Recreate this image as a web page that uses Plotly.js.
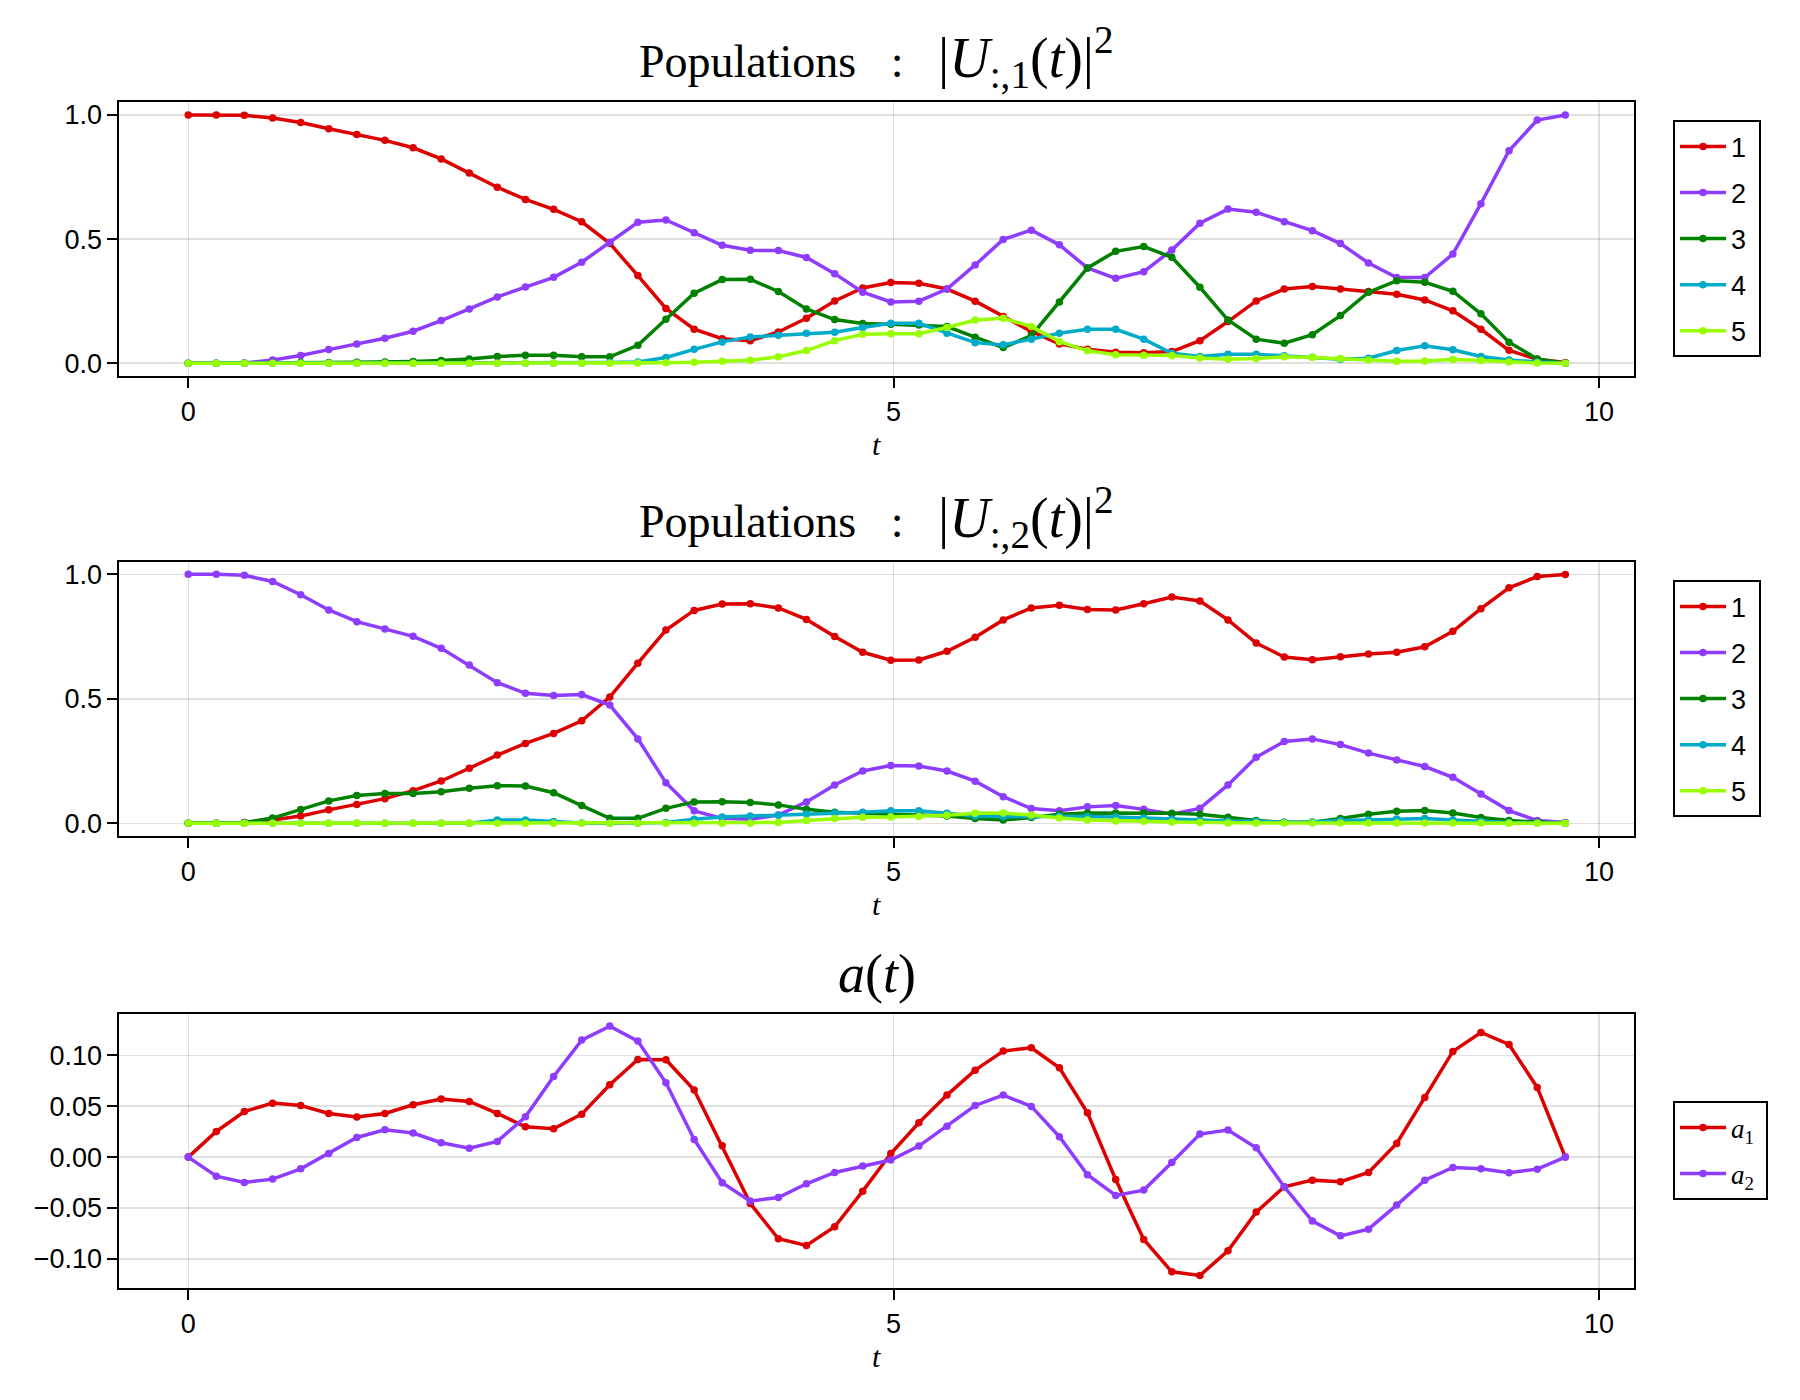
<!DOCTYPE html>
<html>
<head>
<meta charset="utf-8">
<script src="https://cdn.plot.ly/plotly-3.0.1.min.js"></script>
<style>html,body{margin:0;padding:0;background:#fff;}#plot{width:1800px;height:1400px;}</style>
</head>
<body>
<div id="plot"></div>
<script>
// time grid
const t = [0, 0.199, 0.398, 0.598, 0.797, 0.996, 1.195, 1.394, 1.594, 1.793,
  1.992, 2.191, 2.390, 2.590, 2.789, 2.988, 3.187, 3.386, 3.586, 3.785,
  3.984, 4.183, 4.382, 4.582, 4.781, 4.980, 5.179, 5.378, 5.578, 5.777,
  5.976, 6.175, 6.374, 6.574, 6.773, 6.972, 7.171, 7.370, 7.570, 7.769,
  7.968, 8.167, 8.366, 8.566, 8.765, 8.964, 9.163, 9.362, 9.562, 9.761];

// Populations |U_{:,1}(t)|^2
const pop1_level1 = [1.0, 1.0, 0.999, 0.988, 0.970, 0.945, 0.922, 0.898, 0.868, 0.823,
  0.766, 0.709, 0.660, 0.620, 0.570, 0.483, 0.353, 0.221, 0.137, 0.099,
  0.091, 0.126, 0.181, 0.251, 0.303, 0.325, 0.322, 0.299, 0.250, 0.188,
  0.128, 0.078, 0.056, 0.044, 0.042, 0.047, 0.091, 0.168, 0.251, 0.299,
  0.309, 0.299, 0.289, 0.278, 0.255, 0.211, 0.137, 0.052, 0.016, 0.003];
const pop1_level2 = [0, 0, 0.001, 0.013, 0.031, 0.055, 0.078, 0.101, 0.129, 0.172,
  0.219, 0.267, 0.307, 0.346, 0.407, 0.487, 0.568, 0.577, 0.526, 0.475,
  0.455, 0.454, 0.426, 0.361, 0.286, 0.247, 0.250, 0.299, 0.396, 0.499,
  0.536, 0.477, 0.384, 0.342, 0.369, 0.456, 0.564, 0.621, 0.608, 0.570,
  0.534, 0.482, 0.404, 0.345, 0.345, 0.440, 0.643, 0.856, 0.980, 1.0];
const pop1_level3 = [0, 0, 0, 0.001, 0.003, 0.003, 0.004, 0.005, 0.007, 0.011,
  0.017, 0.027, 0.032, 0.032, 0.026, 0.026, 0.072, 0.177, 0.282, 0.337,
  0.338, 0.289, 0.219, 0.176, 0.160, 0.157, 0.154, 0.148, 0.105, 0.063,
  0.111, 0.247, 0.384, 0.451, 0.470, 0.427, 0.306, 0.174, 0.097, 0.081,
  0.115, 0.192, 0.286, 0.332, 0.326, 0.290, 0.199, 0.085, 0.017, 0];
const pop1_level4 = [0, 0, 0, 0, 0, 0, 0, 0, 0, 0,
  0, 0, 0, 0, 0, 0.003, 0.005, 0.023, 0.056, 0.086,
  0.106, 0.113, 0.121, 0.125, 0.144, 0.161, 0.161, 0.121, 0.083, 0.074,
  0.097, 0.121, 0.137, 0.137, 0.097, 0.040, 0.027, 0.036, 0.036, 0.030,
  0.024, 0.016, 0.020, 0.051, 0.070, 0.054, 0.027, 0.013, 0.005, 0];
const pop1_level5 = [0, 0, 0, 0, 0, 0, 0, 0, 0, 0,
  0, 0, 0, 0, 0, 0, 0.001, 0.002, 0.004, 0.008,
  0.012, 0.026, 0.051, 0.091, 0.117, 0.119, 0.119, 0.144, 0.174, 0.181,
  0.148, 0.087, 0.050, 0.034, 0.032, 0.031, 0.021, 0.016, 0.019, 0.026,
  0.023, 0.019, 0.013, 0.008, 0.009, 0.015, 0.011, 0.005, 0.001, 0];

// Populations |U_{:,2}(t)|^2
const pop2_level1 = [0, 0, 0.003, 0.013, 0.029, 0.054, 0.076, 0.099, 0.131, 0.170,
  0.221, 0.274, 0.321, 0.361, 0.412, 0.507, 0.643, 0.776, 0.855, 0.881,
  0.882, 0.865, 0.819, 0.750, 0.687, 0.655, 0.656, 0.691, 0.747, 0.817,
  0.865, 0.876, 0.859, 0.857, 0.882, 0.909, 0.893, 0.817, 0.724, 0.668,
  0.657, 0.669, 0.680, 0.687, 0.709, 0.771, 0.862, 0.946, 0.991, 0.999];
const pop2_level2 = [1.0, 1.0, 0.996, 0.971, 0.918, 0.857, 0.810, 0.780, 0.751, 0.703,
  0.636, 0.565, 0.522, 0.513, 0.517, 0.475, 0.339, 0.163, 0.050, 0.020,
  0.016, 0.033, 0.086, 0.154, 0.210, 0.232, 0.230, 0.210, 0.169, 0.107,
  0.059, 0.050, 0.066, 0.071, 0.056, 0.037, 0.060, 0.154, 0.265, 0.329,
  0.339, 0.316, 0.282, 0.254, 0.228, 0.185, 0.118, 0.051, 0.011, 0.003];
const pop2_level3 = [0, 0, 0.003, 0.021, 0.055, 0.090, 0.112, 0.120, 0.120, 0.127,
  0.141, 0.151, 0.150, 0.123, 0.071, 0.020, 0.020, 0.060, 0.086, 0.087,
  0.084, 0.074, 0.056, 0.044, 0.040, 0.036, 0.033, 0.029, 0.019, 0.013,
  0.023, 0.036, 0.041, 0.041, 0.041, 0.040, 0.036, 0.024, 0.011, 0.004,
  0.004, 0.019, 0.036, 0.048, 0.051, 0.041, 0.023, 0.011, 0.004, 0];
const pop2_level4 = [0, 0, 0, 0, 0, 0, 0, 0, 0, 0,
  0, 0.013, 0.013, 0.007, 0.001, 0, 0, 0.003, 0.016, 0.025,
  0.029, 0.032, 0.037, 0.041, 0.044, 0.050, 0.050, 0.040, 0.029, 0.027,
  0.027, 0.029, 0.027, 0.025, 0.021, 0.016, 0.011, 0.009, 0.008, 0.004,
  0.005, 0.011, 0.013, 0.017, 0.019, 0.013, 0.007, 0.003, 0.001, 0];
const pop2_level5 = [0, 0, 0, 0, 0, 0, 0, 0, 0, 0,
  0, 0, 0, 0, 0, 0, 0, 0, 0, 0,
  0, 0.003, 0.011, 0.019, 0.024, 0.025, 0.027, 0.032, 0.040, 0.041,
  0.033, 0.021, 0.013, 0.009, 0.008, 0.005, 0.003, 0.001, 0.001, 0.001,
  0.001, 0.001, 0.001, 0.001, 0.001, 0.001, 0.001, 0, 0, 0];

// controls a(t)
const a1 = [0, 0.0252, 0.0448, 0.0530, 0.0507, 0.0429, 0.0393, 0.0429, 0.0514, 0.0570,
  0.0547, 0.0429, 0.0298, 0.0278, 0.0422, 0.0710, 0.0959, 0.0956, 0.0658, 0.0111,
  -0.0455, -0.0802, -0.0867, -0.0684, -0.0334, 0.0035, 0.0337, 0.0609, 0.0854, 0.1041,
  0.1074, 0.0877, 0.0435, -0.0219, -0.0809, -0.1126, -0.1162, -0.0920, -0.0540, -0.0291,
  -0.0226, -0.0242, -0.0151, 0.0134, 0.0586, 0.1038, 0.1224, 0.1106, 0.0684, 0];
const a2 = [0, -0.0187, -0.0249, -0.0216, -0.0115, 0.0036, 0.0193, 0.0268, 0.0236, 0.0141,
  0.0088, 0.0154, 0.0396, 0.0792, 0.1149, 0.1286, 0.1139, 0.0730, 0.0173, -0.0252,
  -0.0432, -0.0396, -0.0262, -0.0151, -0.0088, -0.0029, 0.0108, 0.0304, 0.0507, 0.0609,
  0.0498, 0.0200, -0.0173, -0.0376, -0.0324, -0.0052, 0.0226, 0.0265, 0.0092, -0.0291,
  -0.0628, -0.0773, -0.0707, -0.0471, -0.0226, -0.0101, -0.0115, -0.0154, -0.0118, 0];

const nbsp = '\u00a0';
const levelNames = ['1', '2', '3', '4', '5'];
const controlNames = ['<i>a</i><sub>1</sub>', '<i>a</i><sub>2</sub>'];
const xTicks = [0, 5, 10];

const colors = ['#dc0000', '#8e3cff', '#008200', '#00abc9', '#99ff00'];
const SANS = 'Liberation Sans, Arial, sans-serif';
const SERIF = 'Liberation Serif, Times New Roman, serif';

const pop1 = [pop1_level1, pop1_level2, pop1_level3, pop1_level4, pop1_level5];
const pop2 = [pop2_level1, pop2_level2, pop2_level3, pop2_level4, pop2_level5];
const ctrl = [a1, a2];

const traces = [];
function addSeries(ys, names, xa, ya, leg, tag) {
  ys.forEach((y, i) => {
    traces.push({
      type: 'scatter', mode: 'lines+markers', x: t, y: y,
      name: names[i] + nbsp, xaxis: xa, yaxis: ya, legend: leg,
      legendgroup: tag + i,
      line: {color: colors[i], width: 3.5},
      marker: {color: colors[i], size: 7.5},
      cliponaxis: false
    });
  });
}
addSeries(pop1, levelNames, 'x', 'y', 'legend', 'a');
addSeries(pop2, levelNames, 'x2', 'y2', 'legend2', 'b');
addSeries(ctrl, controlNames, 'x3', 'y3', 'legend3', 'c');

const W = 1800, H = 1400;
const left = 119.4, right = 1634;
const panels = [[102, 375.7], [562, 835.7], [1014, 1287.7]];
const py = p => 1 - p / H;

function xaxis(anchor) {
  return {
    domain: [left / W, right / W], anchor: anchor,
    range: [-0.488, 10.248], tickvals: xTicks, ticktext: xTicks.map(String),
    showgrid: true, gridcolor: 'rgba(0,0,0,0.12)', gridwidth: 1.5, zeroline: false,
    showline: true, mirror: true, linecolor: 'black', linewidth: 2,
    ticks: 'outside', ticklen: 10, tickwidth: 2, tickcolor: 'black',
    ticklabelstandoff: 1,
    tickfont: {family: SANS, size: 27, color: 'black'}
  };
}
function yaxis(anchor, i, range, vals, fmt) {
  return {
    domain: [py(panels[i][1]), py(panels[i][0])], anchor: anchor,
    range: range, tickvals: vals, tickformat: fmt,
    showgrid: true, gridcolor: 'rgba(0,0,0,0.12)', gridwidth: 1.5, zeroline: false,
    showline: true, mirror: true, linecolor: 'black', linewidth: 2,
    ticks: 'outside', ticklen: 10, tickwidth: 2, tickcolor: 'black',
    ticklabelstandoff: 0,
    tickfont: {family: SANS, size: 27, color: 'black'}
  };
}
function legend(i, family) {
  return {
    x: 1673 / W, xanchor: 'left',
    y: py((panels[i][0] + panels[i][1]) / 2), yanchor: 'middle',
    bordercolor: 'black', borderwidth: 2, bgcolor: 'white',
    font: {family: family, size: 27, color: 'black'},
    traceorder: 'grouped', tracegroupgap: 8, itemwidth: 46
  };
}

function popTitle(col) {
  return '<span style="font-size:46px">Populations' + nbsp.repeat(3) + ':' + nbsp.repeat(3) + '</span>' +
    '<span style="font-size:56px">|<i>U</i><sub>:,' + col + '</sub>(<i>t</i>)|<sup>2</sup></span>';
}
const titles = [popTitle(1), popTitle(2), '<span style="font-size:54px"><i>a</i>(<i>t</i>)</span>'];
const titleOffsets = [45, 45, 40];
const annotations = [];
const cx = (left + right) / 2 / W;
panels.forEach((p, i) => {
  annotations.push({
    xref: 'paper', yref: 'paper', x: cx, y: py(p[0] - titleOffsets[i]), xanchor: 'center', yanchor: 'middle',
    text: titles[i], showarrow: false, font: {family: SERIF, size: 50, color: 'black'}
  });
  annotations.push({
    xref: 'paper', yref: 'paper', x: cx, y: py(p[1] + 69), xanchor: 'center', yanchor: 'middle',
    text: '<i>t</i>', showarrow: false, font: {family: SERIF, size: 30, color: 'black'}
  });
});

const layout = {
  width: W, height: H,
  margin: {l: 0, r: 0, t: 0, b: 0},
  paper_bgcolor: 'white', plot_bgcolor: 'white',
  showlegend: true,
  xaxis: xaxis('y'), yaxis: yaxis('x', 0, [-0.0502, 1.0525], [0, 0.5, 1], '.1f'),
  xaxis2: xaxis('y2'), yaxis2: yaxis('x2', 1, [-0.0498, 1.0495], [0, 0.5, 1], '.1f'),
  xaxis3: xaxis('y3'), yaxis3: yaxis('x3', 2, [-0.1282, 0.1405], [-0.1, -0.05, 0, 0.05, 0.1], '.2f'),
  legend: legend(0, SANS), legend2: legend(1, SANS), legend3: legend(2, SERIF),
  annotations: annotations
};

Plotly.newPlot('plot', traces, layout, {staticPlot: true, displayModeBar: false});
</script>
</body>
</html>
